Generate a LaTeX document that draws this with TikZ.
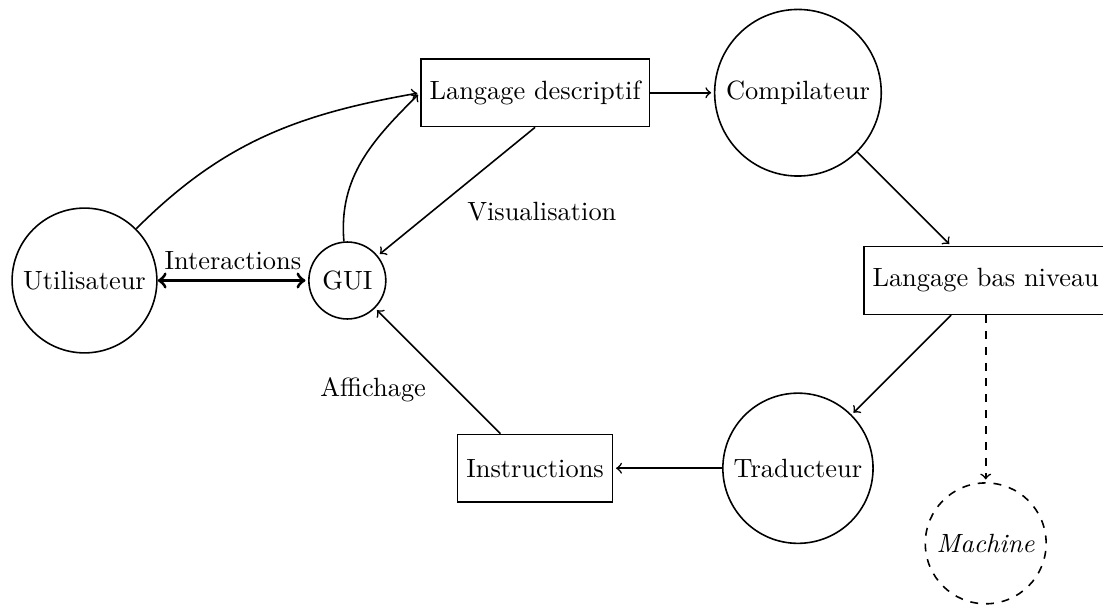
\documentclass[tikz,border=0pt]{standalone}
\usetikzlibrary{positioning, arrows}

\tikzset{
  round/.style={draw, circle},
  block/.style={draw, rectangle, minimum height=0.9cm}
}

\begin{document}
\begin{tikzpicture}[shorten >=1pt,node distance=3.5cm,on grid,auto,semithick]
   \useasboundingbox (-1.125,-4.374) rectangle (13.562,3.735);
   \node[round] (user) {Utilisateur};
   \node[round] (gui) [right=of user] {GUI};
   \node[block] (desc) [above right=2.5cm and 2.5cm of gui] {Langage descriptif};
   \node[round] (comp) [right=of desc] {Compilateur};
   \node[block] (low) [below right=2.5cm and 2.5cm of comp] {Langage bas niveau};
   \node[round] (trad) [below left=2.5cm and 2.5cm of low] {Traducteur};
   \node[block] (instr) [left=of trad] {Instructions};
   \node[round, dashed] (mach) [below=of low] {\textit{Machine}};
    \path[->]
    (user) edge [<->, very thick] node {Interactions} (gui)
    (user) edge [out=45, in=190] (desc.west)
    (gui) edge [out=95, in=225] (desc.west)
    (desc) edge (comp)
    (desc.south) edge node [pos=0.66, right=10pt] {Visualisation} (gui)
    (comp) edge (low)
    (low) edge (trad)
    (low) edge [dashed] (mach)
    (trad) edge (instr)
    (instr) edge node [pos=0.35, left=8pt] {Affichage} (gui);
\end{tikzpicture}
\end{document}
